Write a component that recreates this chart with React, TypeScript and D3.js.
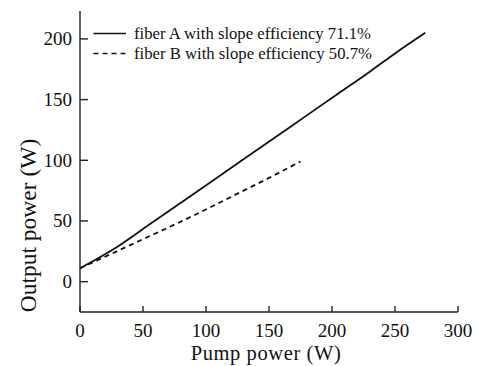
import * as d3 from "d3";

// ── Data ────────────────────────────────────────────────

const pumpA = [0, 30, 55, 80, 105, 130, 155, 180, 205, 230, 250, 274];
const outA = [11, 29, 47, 65, 83, 101, 119, 137, 155, 173, 188, 205];

const pumpB = [0, 25, 50, 75, 100, 125, 150, 175];
const outB = [11, 23, 35, 47, 59.5, 72.5, 85.5, 99];

const xTicks = [0, 50, 100, 150, 200, 250, 300];
const yTicks = [0, 50, 100, 150, 200];

const legendLabels = [
  "fiber A with slope efficiency 71.1%",
  "fiber B with slope efficiency 50.7%",
];

// ── Layout ──────────────────────────────────────────────

const W = 477;
const H = 366;
const FONT = "Liberation Serif";
const INK = "#111";

const x = d3.scaleLinear().domain([0, 300]).range([80, 458]);
const y = d3.scaleLinear().domain([-25, 223]).range([312, 11]);

const line = d3
  .line<[number, number]>()
  .x((d) => x(d[0]))
  .y((d) => y(d[1]))
  .curve(d3.curveMonotoneX);

const seriesA = pumpA.map((p, i) => [p, outA[i]] as [number, number]);
const seriesB = pumpB.map((p, i) => [p, outB[i]] as [number, number]);

export default function App() {
  const x0 = x(0);
  const yBase = y(-25);

  return (
    <svg
      width={W}
      height={H}
      style={{ position: "absolute", left: 0, top: 0, background: "#fff" }}
    >
      {/* axes */}
      <line x1={x0} x2={x(300)} y1={yBase} y2={yBase} stroke="#222" strokeWidth={1.4} />
      <line x1={x0} x2={x0} y1={y(223)} y2={yBase} stroke="#222" strokeWidth={1.4} />

      {xTicks.map((t) => (
        <g key={`x${t}`} transform={`translate(${x(t)},${yBase})`}>
          <line y1={0} y2={-6} stroke="#222" strokeWidth={1.4} />
          <text
            y={25}
            textAnchor="middle"
            fill={INK}
            style={{ fontFamily: FONT, fontSize: 19 }}
          >
            {t}
          </text>
        </g>
      ))}

      {yTicks.map((t) => (
        <g key={`y${t}`} transform={`translate(${x0},${y(t)})`}>
          <line x1={0} x2={8} stroke="#222" strokeWidth={1.4} />
          <text
            x={-8}
            dy="0.34em"
            textAnchor="end"
            fill={INK}
            style={{ fontFamily: FONT, fontSize: 19 }}
          >
            {t}
          </text>
        </g>
      ))}

      {/* series */}
      <path
        d={line(seriesB) ?? ""}
        fill="none"
        stroke={INK}
        strokeWidth={1.8}
        strokeDasharray="5,4"
      />
      <path d={line(seriesA) ?? ""} fill="none" stroke={INK} strokeWidth={1.8} />

      {/* legend */}
      {legendLabels.map((label, i) => {
        const ly = 33.5 + i * 20;
        return (
          <g key={label}>
            <line
              x1={93.5}
              x2={126}
              y1={ly}
              y2={ly}
              stroke={INK}
              strokeWidth={1.6}
              strokeDasharray={i === 1 ? "5,4" : undefined}
            />
            <text
              x={134}
              y={ly + 5.4}
              fill={INK}
              style={{ fontFamily: FONT, fontSize: 16.7 }}
            >
              {label}
            </text>
          </g>
        );
      })}

      {/* axis titles */}
      <text
        x={266}
        y={360}
        textAnchor="middle"
        fill={INK}
        style={{ fontFamily: FONT, fontSize: 20.5, letterSpacing: 0.6 }}
      >
        Pump power (W)
      </text>
      <text
        transform="translate(35.5,225.5) rotate(-90)"
        textAnchor="middle"
        fill={INK}
        style={{ fontFamily: FONT, fontSize: 23.5 }}
      >
        Output power (W)
      </text>
    </svg>
  );
}
